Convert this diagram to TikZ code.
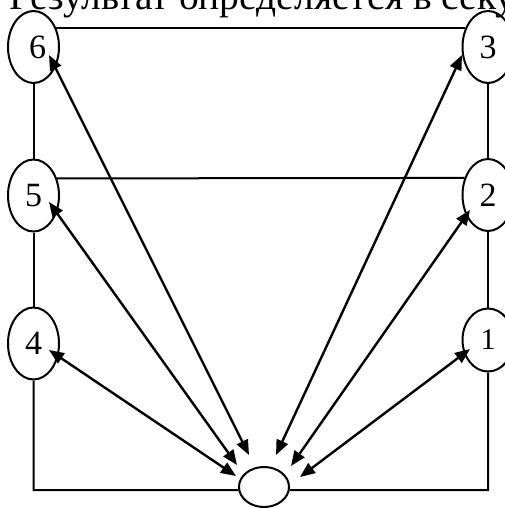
\documentclass[tikz,border=0pt]{standalone}
\usepackage{fontspec}
\setmainfont{Liberation Serif}
\usetikzlibrary{shapes.geometric,arrows.meta}
\begin{document}
\begin{tikzpicture}[x=1pt,y=-1pt,
  vert/.style={draw,ellipse,line width=2pt,minimum width=51pt,minimum height=72pt,inner sep=0pt,font=\fontsize{34}{34}\selectfont},
  frame/.style={line width=2pt},
  link/.style={line width=2.4pt,{Triangle[length=15pt,width=12pt]}-{Triangle[length=15pt,width=12pt]}}]
\useasboundingbox (0,0) rectangle (504,508);
\node[anchor=base west,inner sep=0pt,font=\fontsize{39.5}{39.5}\selectfont] (title) at (9,10) {Результат определяется в секу};
\node[vert] (n6) at (33.5,47) {\hspace*{8pt}6};
\node[vert] (n5) at (33.5,195.5) {5};
\node[vert] (n4) at (33.5,343.5) {4};
\node[vert] (n3) at (488,47) {3};
\node[vert] (n2) at (488,195) {2};
\node[vert,minimum height=63pt,font=\fontsize{30}{30}\selectfont] (n1) at (488,340) {1};
\node[vert,minimum width=50pt,minimum height=40pt] (b) at (264,487) {};
\coordinate (bl) at (33.5,490);
\coordinate (br) at (488,490);
\draw[frame] (n6.39) -- (n3.141);
\draw[frame] (n5.36) -- (n2.144);
\draw[frame] (n6.south) -- (n5.north);
\draw[frame] (n5.south) -- (n4.north);
\draw[frame] (n3.south) -- (n2.north);
\draw[frame] (n2.south) -- (n1.north);
\draw[frame] (n4.south) -- (bl) -- (b.187);
\draw[frame] (n1.south) -- (br) -- (b.-7);
\coordinate (t6) at (49,55);  \coordinate (b6) at (249,455);
\coordinate (t5) at (49,202); \coordinate (b5) at (237,465);
\coordinate (t4) at (49,350); \coordinate (b4) at (236,476);
\coordinate (t3) at (462,55); \coordinate (b3) at (276,455);
\coordinate (t2) at (470,210); \coordinate (b2) at (291,466);
\coordinate (t1) at (470,349); \coordinate (b1) at (300,477);
\draw[link] (t6) -- (b6);
\draw[link] (t5) -- (b5);
\draw[link] (t4) -- (b4);
\draw[link] (t3) -- (b3);
\draw[link] (t2) -- (b2);
\draw[link] (t1) -- (b1);
\end{tikzpicture}
\end{document}
